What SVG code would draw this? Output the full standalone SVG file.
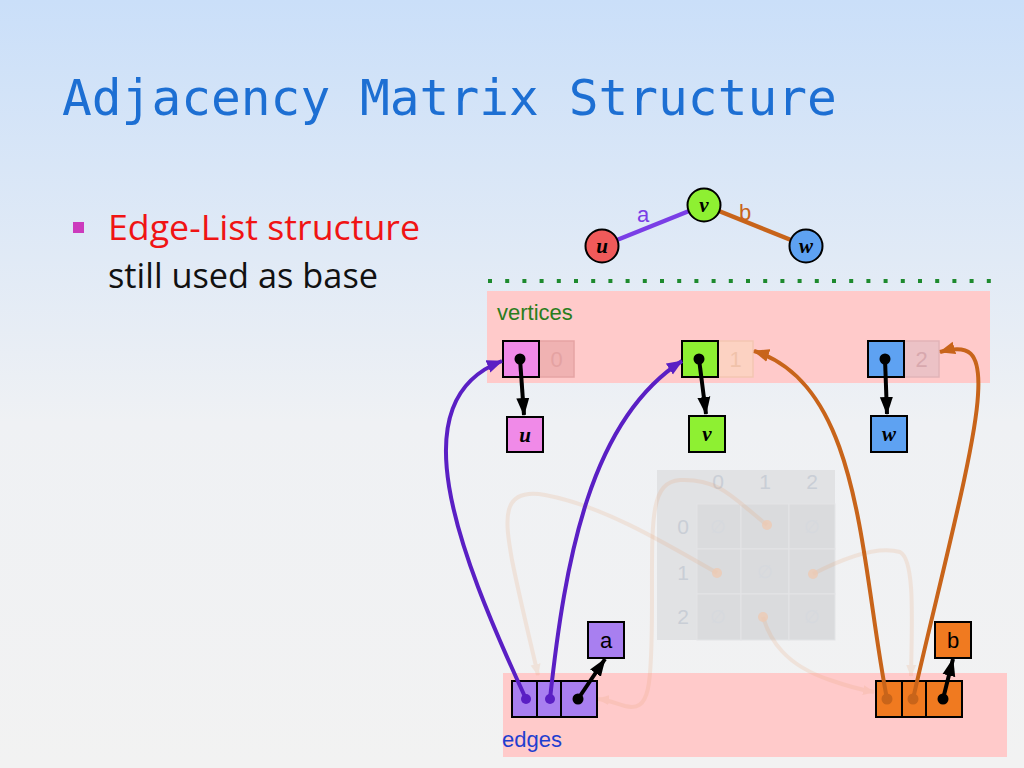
<svg xmlns="http://www.w3.org/2000/svg" width="1024" height="768" viewBox="0 0 1024 768">
<defs>
<linearGradient id="bg" x1="0" y1="0" x2="0" y2="1">
<stop offset="0" stop-color="#cadff9"/>
<stop offset="0.55" stop-color="#eff1f4"/>
<stop offset="1" stop-color="#f2f2f2"/>
</linearGradient>
<marker id="ahBlack" markerUnits="userSpaceOnUse" markerWidth="18" markerHeight="14" refX="17" refY="7" orient="auto">
<path d="M0,0.5 L18,7 L0,13.5 z" fill="#000"/>
</marker>
<marker id="ahPurple" markerUnits="userSpaceOnUse" markerWidth="16" markerHeight="14" refX="15" refY="7" orient="auto">
<path d="M0,0.5 L16,7 L0,13.5 z" fill="#5a1fc4"/>
</marker>
<marker id="ahOrange" markerUnits="userSpaceOnUse" markerWidth="16" markerHeight="14" refX="15" refY="7" orient="auto">
<path d="M0,0.5 L16,7 L0,13.5 z" fill="#c8641a"/>
</marker>
<marker id="ahFaint" markerUnits="userSpaceOnUse" markerWidth="12" markerHeight="12" refX="11" refY="6" orient="auto">
<path d="M0,1 L12,6 L0,11 z" fill="#e8a070"/>
</marker>
</defs>
<style>
.title{font-family:"DejaVu Sans Mono",monospace;font-size:49.5px;fill:#1d6fd3}
.bul{font-family:"Open Sans","Noto Sans",sans-serif;font-size:34px}
.lbl{font-family:"Liberation Sans",Arial,sans-serif;font-size:22px}
.vname{font-family:"Liberation Serif","Times New Roman",serif;font-style:italic;font-weight:bold;font-size:21px;fill:#000}
.cell{stroke:#000;stroke-width:2}
.ptr{stroke:#000;stroke-width:4;fill:none;marker-end:url(#ahBlack)}
.dot{fill:#000}
.faint{stroke:#e8a070;stroke-width:4;fill:none;opacity:0.18}
.mtxt{font-family:"Liberation Sans",Arial,sans-serif;font-size:21px;fill:#c9ced6;text-anchor:middle}
.empty{font-family:"DejaVu Sans",sans-serif;font-size:18px;fill:#d6d9de;text-anchor:middle}
</style>
<rect x="0" y="0" width="1024" height="768" fill="url(#bg)"/>

<text class="title" x="62" y="115">Adjacency Matrix Structure</text>

<g id="bullet">
<rect x="73" y="222" width="11" height="11" fill="#cc3bbd"/>
<text class="bul" x="108" y="240" fill="#f01414" textLength="312" lengthAdjust="spacingAndGlyphs">Edge-List structure</text>
<text class="bul" x="108" y="288" fill="#111" textLength="270" lengthAdjust="spacingAndGlyphs">still used as base</text>
</g>

<!-- small graph -->
<g id="graph-edges">
<line x1="602" y1="246" x2="704" y2="205" stroke="#7a3ee6" stroke-width="4.5"/>
<line x1="704" y1="205" x2="806" y2="246" stroke="#c8641a" stroke-width="4.5"/>
<text class="lbl" x="643" y="222" fill="#7a3ee6" text-anchor="middle">a</text>
<text class="lbl" x="745" y="220" fill="#c8641a" text-anchor="middle">b</text>
</g>
<g id="gnode-u">
<circle cx="602" cy="246" r="16.5" fill="#f05a5a" stroke="#000" stroke-width="2"/>
<text class="vname" x="602" y="253" text-anchor="middle">u</text>
</g>
<g id="gnode-v">
<circle cx="704" cy="205" r="16.5" fill="#8ef032" stroke="#000" stroke-width="2"/>
<text class="vname" x="704" y="212" text-anchor="middle">v</text>
</g>
<g id="gnode-w">
<circle cx="806" cy="246" r="16.5" fill="#5ea2f2" stroke="#000" stroke-width="2"/>
<text class="vname" x="806" y="253" text-anchor="middle">w</text>
</g>

<line x1="488" y1="281" x2="992" y2="281" stroke="#1e8a2e" stroke-width="4" stroke-dasharray="4 13.2"/>

<!-- containers -->
<g id="vertices">
<rect x="487" y="291" width="503" height="92" fill="#ffcaca"/>
<text class="lbl" x="497" y="320" fill="#2a7d1c">vertices</text>
</g>
<g id="edges">
<rect x="503" y="673" width="504" height="84" fill="#ffcaca"/>
<text class="lbl" x="502" y="747" fill="#1f3fd0">edges</text>
</g>

<!-- faded adjacency matrix -->
<g id="matrix">
<rect x="657" y="470" width="178" height="170" fill="#dedfe0" opacity="0.85"/>
<g fill="#dadbdd" stroke="#e3e4e6" stroke-width="1">
<rect x="697" y="504" width="44" height="45"/>
<rect x="741" y="504" width="48" height="45"/>
<rect x="789" y="504" width="46" height="45"/>
<rect x="697" y="549" width="44" height="45"/>
<rect x="741" y="549" width="48" height="45"/>
<rect x="789" y="549" width="46" height="45"/>
<rect x="697" y="594" width="44" height="46"/>
<rect x="741" y="594" width="48" height="46"/>
<rect x="789" y="594" width="46" height="46"/>
</g>
<text class="mtxt" x="718" y="489">0</text>
<text class="mtxt" x="765" y="489">1</text>
<text class="mtxt" x="812" y="489">2</text>
<text class="mtxt" x="683" y="534">0</text>
<text class="mtxt" x="683" y="580">1</text>
<text class="mtxt" x="683" y="624">2</text>
<text class="empty" x="718" y="533">∅</text>
<text class="empty" x="812" y="533">∅</text>
<text class="empty" x="765" y="578">∅</text>
<text class="empty" x="718" y="623">∅</text>
<text class="empty" x="812" y="623">∅</text>
</g>

<g id="faint-connectors">
<path class="faint" d="M767,525 C735,500 720,478 680,480 C650,482 652,520 652,600 C652,690 650,712 625,706 C615,703 608,700 598,699" marker-end="url(#ahFaint)"/>
<path class="faint" d="M717,573 C660,540 600,505 545,495 C500,487 505,520 512,560 C520,600 530,640 538,675" marker-end="url(#ahFaint)"/>
<path class="faint" d="M813,574 C840,560 875,545 900,552 C915,560 912,620 911,676" marker-end="url(#ahFaint)"/>
<path class="faint" d="M763,617 C770,640 785,665 830,680 C850,687 862,690 874,692" marker-end="url(#ahFaint)"/>
<g fill="#eecbb4" opacity="0.8">
<circle cx="767" cy="525" r="5"/>
<circle cx="717" cy="573" r="5"/>
<circle cx="813" cy="574" r="5"/>
<circle cx="763" cy="617" r="5"/>
</g>
</g>

<!-- vertex records -->
<g id="vrec-u">
<rect x="539" y="341" width="35" height="36" fill="#f0b2b2" stroke="#e6a4a4" stroke-width="1.5"/>
<text class="lbl" x="556.5" y="367" fill="#e4a2a2" text-anchor="middle">0</text>
<rect class="cell" x="503" y="341" width="36" height="36" fill="#f08ae8"/>
<circle class="dot" cx="520" cy="359" r="5.5"/>
</g>
<g id="vrec-v">
<rect x="718" y="341" width="35" height="36" fill="#fcd2c2" stroke="#f4c6b2" stroke-width="1.5"/>
<text class="lbl" x="735.5" y="367" fill="#f0c2aa" text-anchor="middle">1</text>
<rect class="cell" x="682" y="341" width="36" height="36" fill="#8ef032"/>
<circle class="dot" cx="699" cy="359" r="5.5"/>
</g>
<g id="vrec-w">
<rect x="904" y="341" width="35" height="36" fill="#ecc2c6" stroke="#e2b4b8" stroke-width="1.5"/>
<text class="lbl" x="921.5" y="367" fill="#d8a8ae" text-anchor="middle">2</text>
<rect class="cell" x="868" y="341" width="36" height="36" fill="#5ea2f2"/>
<circle class="dot" cx="885" cy="359" r="5.5"/>
</g>

<g id="elem-u">
<rect class="cell" x="507" y="417" width="36" height="35" fill="#f08ae8"/>
<text class="vname" x="525" y="442" text-anchor="middle">u</text>
</g>
<g id="elem-v">
<rect class="cell" x="689" y="416" width="36" height="36" fill="#8ef032"/>
<text class="vname" x="707" y="441" text-anchor="middle">v</text>
</g>
<g id="elem-w">
<rect class="cell" x="871" y="416" width="36" height="36" fill="#5ea2f2"/>
<text class="vname" x="889" y="441" text-anchor="middle">w</text>
</g>

<!-- edge records -->
<g id="erec-a">
<rect class="cell" x="512" y="681" width="25" height="36" fill="#a87ff0"/>
<rect class="cell" x="537" y="681" width="24" height="36" fill="#a87ff0"/>
<rect class="cell" x="561" y="681" width="36" height="36" fill="#a87ff0"/>
<circle cx="526" cy="699" r="5" fill="#5a1fc4"/>
<circle cx="550" cy="699" r="5" fill="#5a1fc4"/>
<circle class="dot" cx="578" cy="699" r="5.5"/>
</g>
<g id="elem-a">
<rect class="cell" x="588" y="622" width="36" height="36" fill="#a87ff0"/>
<text class="lbl" x="606" y="648" fill="#000" text-anchor="middle">a</text>
</g>
<g id="erec-b">
<rect class="cell" x="876" y="681" width="26" height="36" fill="#f07a20"/>
<rect class="cell" x="902" y="681" width="24" height="36" fill="#f07a20"/>
<rect class="cell" x="926" y="681" width="36" height="36" fill="#f07a20"/>
<circle cx="887" cy="699" r="5.5" fill="#c8641a"/>
<circle cx="913" cy="699" r="5.5" fill="#c8641a"/>
<circle class="dot" cx="943" cy="699" r="5.5"/>
</g>
<g id="elem-b">
<rect class="cell" x="935" y="622" width="36" height="36" fill="#f07a20"/>
<text class="lbl" x="953" y="648" fill="#000" text-anchor="middle">b</text>
</g>

<!-- connectors -->
<g id="connectors">
<line class="ptr" x1="520" y1="359" x2="524" y2="415"/>
<line class="ptr" x1="699" y1="359" x2="706" y2="414"/>
<line class="ptr" x1="885" y1="359" x2="887" y2="414"/>
<line class="ptr" x1="578" y1="699" x2="605" y2="659"/>
<line class="ptr" x1="943" y1="699" x2="953" y2="659"/>
<path d="M526,699 C455,545 400,400 502,361" stroke="#5a1fc4" stroke-width="4" fill="none" marker-end="url(#ahPurple)"/>
<path d="M550,699 C565,560 590,420 682,361" stroke="#5a1fc4" stroke-width="4" fill="none" marker-end="url(#ahPurple)"/>
<path d="M887,699 C860,560 862,385 754,351" stroke="#c8641a" stroke-width="4" fill="none" marker-end="url(#ahOrange)"/>
<path d="M913,699 C940,580 975,450 978,395 C981,350 968,344 940,352" stroke="#c8641a" stroke-width="4" fill="none" marker-end="url(#ahOrange)"/>
</g>
</svg>
